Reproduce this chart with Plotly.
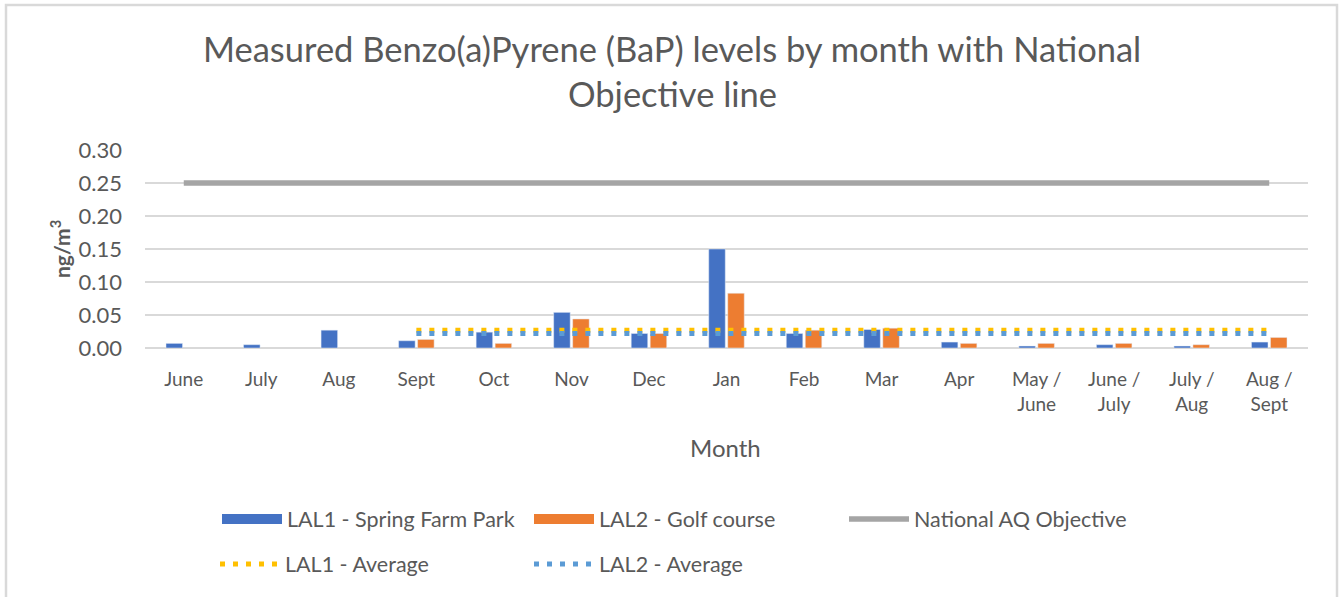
import plotly.graph_objects as go

months = ["June", "July", "Aug", "Sept", "Oct", "Nov", "Dec", "Jan", "Feb", "Mar", "Apr",
          "May /<br>June", "June /<br>July", "July /<br>Aug", "Aug /<br>Sept"]
lal1 = [0.007, 0.005, 0.027, 0.011, 0.024, 0.054, 0.022, 0.150, 0.022, 0.028, 0.009, 0.003, 0.005, 0.003, 0.009]
lal2 = [None, None, None, 0.013, 0.007, 0.044, 0.022, 0.083, 0.027, 0.030, 0.007, 0.007, 0.007, 0.005, 0.016]
objective = [0.25, 0.25, 0.25, 0.25, 0.25, 0.25, 0.25, 0.25, 0.25, 0.25, 0.25, 0.25, 0.25, 0.25, 0.25]
lal1_avg = [None, None, None, 0.027, 0.027, 0.027, 0.027, 0.027, 0.027, 0.027, 0.027, 0.027, 0.027, 0.027, 0.027]
lal2_avg = [None, None, None, 0.022, 0.022, 0.022, 0.022, 0.022, 0.022, 0.022, 0.022, 0.022, 0.022, 0.022, 0.022]
y_ticks = [0.0, 0.05, 0.10, 0.15, 0.20, 0.25, 0.30]

FONT = "Lato"
TXT = "#595959"
BLUE, ORANGE, GREY, GOLD, LBLUE = "#4472C4", "#ED7D31", "#A5A5A5", "#FFC000", "#5B9BD5"
W, H = 1341, 597
L, R, T, B = 145, 33, 150, 249
PW, PH = W - L - R, H - T - B


def px_x(x):
    return (x - L) / PW


def px_y(y):
    return (H - B - y) / PH


fig = go.Figure()
# bars (legend entries drawn by wide-swatch proxies below)
fig.add_trace(go.Bar(x=months, y=lal1, name="LAL1 - Spring Farm Park", marker_color=BLUE,
                     showlegend=False, legendgroup="lal1"))
fig.add_trace(go.Bar(x=months, y=lal2, name="LAL2 - Golf course", marker_color=ORANGE,
                     showlegend=False, legendgroup="lal2"))
fig.add_trace(go.Scatter(x=months, y=objective, name="National AQ Objective", mode="lines",
                         line=dict(color=GREY, width=5.5), legend="legend3"))
fig.add_trace(go.Scatter(x=months, y=lal1_avg, name="LAL1 - Average", mode="lines",
                         line=dict(color=GOLD, width=5, dash="5px,8px"), legend="legend4"))
fig.add_trace(go.Scatter(x=months, y=lal2_avg, name="LAL2 - Average", mode="lines",
                         line=dict(color=LBLUE, width=5, dash="5px,8px"), legend="legend5"))
# legend swatches for the bar series (no data of their own)
fig.add_trace(go.Scatter(x=[None], y=[None], name="LAL1 - Spring Farm Park", mode="lines",
                         line=dict(color=BLUE, width=16), legend="legend", legendgroup="lal1"))
fig.add_trace(go.Scatter(x=[None], y=[None], name="LAL2 - Golf course", mode="lines",
                         line=dict(color=ORANGE, width=16), legend="legend2", legendgroup="lal2"))

leg_font = dict(family=FONT, size=21.5, color=TXT)
ITEMW = 60


def leg(text_x, ypx):
    return dict(x=px_x(text_x - ITEMW - 10), y=px_y(ypx), xanchor="left", yanchor="middle",
                font=leg_font, bgcolor="rgba(0,0,0,0)", borderwidth=0, itemwidth=ITEMW)


fig.update_layout(
    width=W, height=H,
    margin=dict(l=L, r=R, t=T, b=B, autoexpand=False),
    paper_bgcolor="white", plot_bgcolor="white",
    barmode="group", bargap=0.51, bargroupgap=0.13,
    font=dict(family=FONT, color=TXT),
    showlegend=True,
    legend=leg(287, 519),
    legend2=leg(599, 519),
    legend3=leg(914, 519),
    legend4=leg(285, 564),
    legend5=leg(599, 564),
    xaxis=dict(tickfont=dict(family=FONT, size=19, color=TXT), showgrid=False,
               showline=False, ticks="", ticklabelstandoff=18, fixedrange=True),
    yaxis=dict(range=[0, 0.30], tickvals=y_ticks, tickformat=".2f",
               tickfont=dict(family=FONT, size=22, color=TXT),
               showgrid=True, gridcolor="#D9D9D9", gridwidth=1.5,
               zeroline=True, zerolinecolor="#D9D9D9", zerolinewidth=1.5,
               showline=False, ticks="", ticklabelstandoff=22, fixedrange=True),
    annotations=[
        dict(text="Measured Benzo(a)Pyrene (BaP) levels by month with National", xref="paper", yref="paper",
             x=px_x(672), y=px_y(48), xanchor="center", yanchor="middle", showarrow=False,
             font=dict(family=FONT, size=34.5, color=TXT)),
        dict(text="Objective line", xref="paper", yref="paper",
             x=px_x(672), y=px_y(93), xanchor="center", yanchor="middle", showarrow=False,
             font=dict(family=FONT, size=34.5, color=TXT)),
        dict(text="Month", xref="paper", yref="paper",
             x=px_x(725), y=px_y(447), xanchor="center", yanchor="middle", showarrow=False,
             font=dict(family=FONT, size=24, color=TXT)),
        dict(text="<b>ng/m<sup>3</sup></b>", xref="paper", yref="paper", textangle=-90,
             x=px_x(60), y=px_y(249), xanchor="center", yanchor="middle", showarrow=False,
             font=dict(family=FONT, size=21, color=TXT)),
    ],
    shapes=[
        dict(type="rect", xref="paper", yref="paper", x0=px_x(6), x1=px_x(1337),
             y0=px_y(640), y1=px_y(5), line=dict(color="#D9D9D9", width=2.5), layer="below"),
    ],
)

fig.write_html("out.html", config={"displayModeBar": False},
               post_script="document.body.style.margin='0';")
